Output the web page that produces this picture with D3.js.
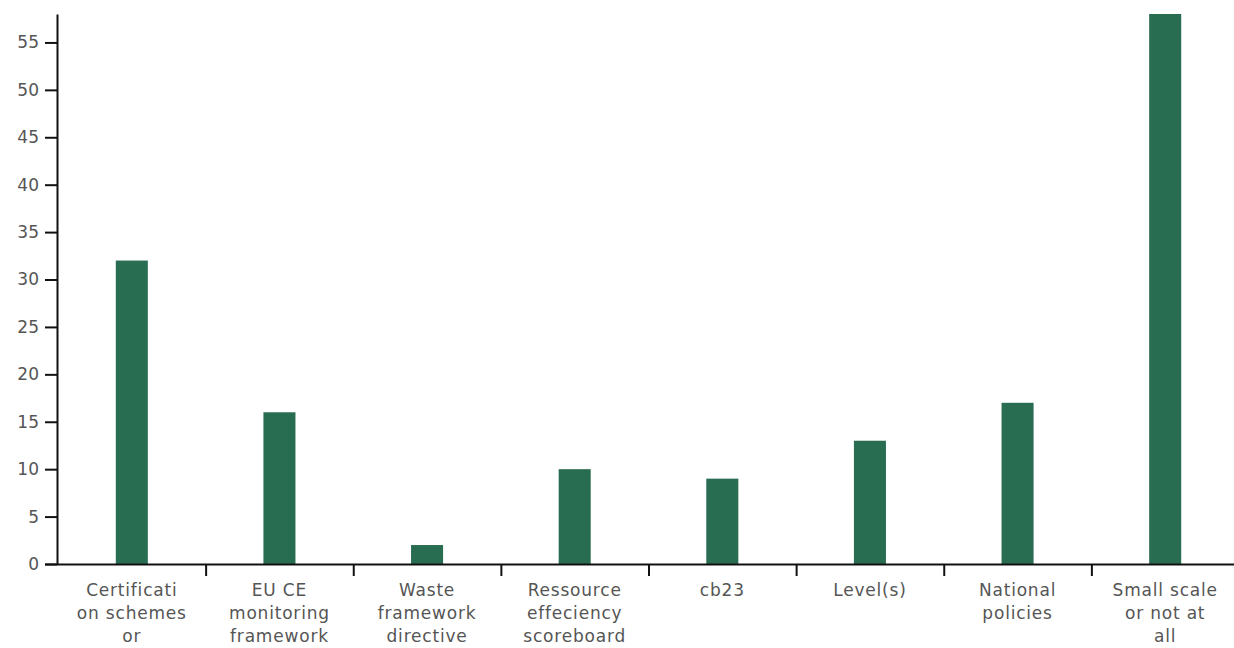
<!DOCTYPE html>
<html>
<head>
<meta charset="utf-8">
<script src="https://cdn.jsdelivr.net/npm/d3@7"></script>
<style>
  html, body { margin: 0; padding: 0; background: #fff; }
  svg text { font-family: "DejaVu Sans", "Noto Sans", sans-serif; }
</style>
</head>
<body>
<svg id="chart" width="1234" height="648"></svg>
<script>
// Categories and their counts
const categories = [
  "Certification schemes or",
  "EU CE monitoring framework",
  "Waste framework directive",
  "Ressource effeciency scoreboard",
  "cb23",
  "Level(s)",
  "National policies",
  "Small scale or not at all"
];
const values = [32, 16, 2, 10, 9, 13, 17, 58];
// Wrapped tick labels, one array of lines per category
const tickLabels = [
  ["Certificati", "on schemes", "or"],
  ["EU CE", "monitoring", "framework"],
  ["Waste", "framework", "directive"],
  ["Ressource", "effeciency", "scoreboard"],
  ["cb23"],
  ["Level(s)"],
  ["National", "policies"],
  ["Small scale", "or not at", "all"]
];
const yTicks = [0, 5, 10, 15, 20, 25, 30, 35, 40, 45, 50, 55];
const yMax = 58;

const svg = d3.select("#chart");
const plotLeft = 57, plotTop = 14, plotBottom = 564;
const bandLeft = 58, bandRight = 1239;

const x = d3.scaleBand().domain(categories).range([bandLeft, bandRight]).padding(0);
const y = d3.scaleLinear().domain([0, yMax]).range([plotBottom, plotTop]);

const barW = x.bandwidth() * 0.217;

// Bars
svg.append("g").selectAll("rect")
  .data(values)
  .join("rect")
  .attr("x", (d, i) => x(categories[i]) + x.bandwidth() / 2 - barW / 2)
  .attr("y", d => y(d))
  .attr("width", barW)
  .attr("height", d => y(0) - y(d))
  .attr("fill", "#286c52");

// Y axis
const yAxis = svg.append("g")
  .attr("transform", `translate(${plotLeft},0)`)
  .call(d3.axisLeft(y).tickValues(yTicks).tickSize(12).tickPadding(6).tickSizeOuter(0));
yAxis.select(".domain").attr("stroke", "#111").attr("stroke-width", 2);
yAxis.selectAll(".tick line").attr("stroke", "#111").attr("stroke-width", 2);
yAxis.selectAll(".tick text").attr("fill", "#555").style("font-size", "17px");

// X axis: ticks sit on the boundaries between categories
const boundaries = categories.map(c => x(c)).slice(1);
const xLine = d3.scaleLinear().domain([bandLeft, bandRight]).range([bandLeft, bandRight]);
const xAxis = svg.append("g")
  .attr("transform", `translate(0,${plotBottom})`)
  .call(d3.axisBottom(xLine).tickValues(boundaries).tickSize(12).tickFormat("").tickSizeOuter(0));
xAxis.select(".domain").attr("stroke", "#111").attr("stroke-width", 2)
  .attr("d", `M${plotLeft - 12},0.5H${bandRight}`);
xAxis.selectAll(".tick line").attr("stroke", "#111").attr("stroke-width", 2);

// Category labels
const labels = svg.append("g").selectAll("text")
  .data(tickLabels)
  .join("text")
  .attr("x", (d, i) => x(categories[i]) + x.bandwidth() / 2)
  .attr("y", plotBottom + 32)
  .attr("text-anchor", "middle")
  .attr("fill", "#555")
  .style("font-size", "17px")
  .style("letter-spacing", "0.8px");
labels.selectAll("tspan")
  .data(d => d)
  .join("tspan")
  .attr("x", function () { return d3.select(this.parentNode).attr("x"); })
  .attr("dy", (d, i) => i === 0 ? 0 : 23)
  .text(d => d);
</script>
</body>
</html>
